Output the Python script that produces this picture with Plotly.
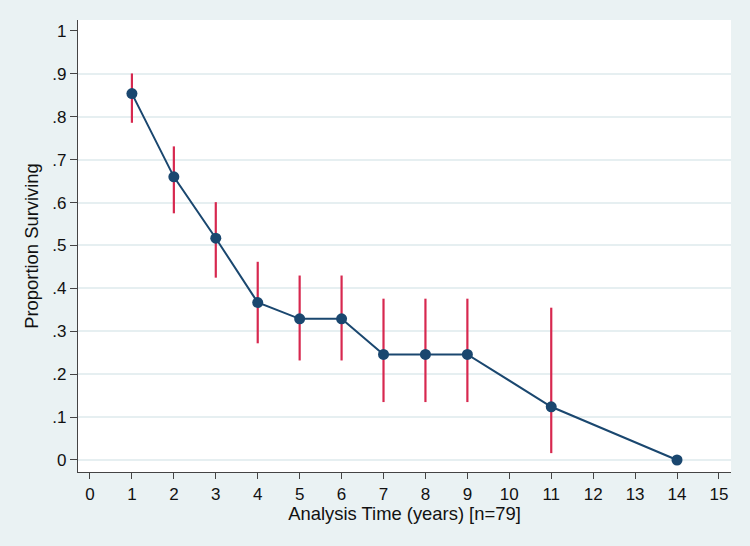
import plotly.graph_objects as go

# Data
time_years = [1, 2, 3, 4, 5, 6, 7, 8, 9, 11, 14]
survival = [0.854, 0.660, 0.517, 0.367, 0.329, 0.329, 0.246, 0.246, 0.246, 0.124, 0.0]
ci_upper = [0.901, 0.731, 0.601, 0.462, 0.430, 0.430, 0.376, 0.376, 0.376, 0.355, None]
ci_lower = [0.786, 0.575, 0.425, 0.272, 0.232, 0.232, 0.135, 0.135, 0.135, 0.016, None]

x_ticks = list(range(0, 16))
y_ticks = [i / 10 for i in range(0, 11)]
y_ticklabels = ["0", ".1", ".2", ".3", ".4", ".5", ".6", ".7", ".8", ".9", "1"]
grid_ticks = [i / 10 for i in range(0, 10)]

err_plus = [(u - s) if u is not None else 0 for u, s in zip(ci_upper, survival)]
err_minus = [(s - l) if l is not None else 0 for l, s in zip(ci_lower, survival)]

BG = "#EAF2F3"
NAVY = "#1A476F"
RED = "#D7284F"
FONT = "Liberation Sans, Arial, sans-serif"

fig = go.Figure()

# CI bars (drawn as error bars without caps)
fig.add_trace(go.Scatter(
    x=time_years, y=survival, mode="markers",
    marker=dict(size=1, color="rgba(0,0,0,0)"),
    error_y=dict(type="data", symmetric=False, array=err_plus, arrayminus=err_minus,
                 color=RED, thickness=2.2, width=0),
    showlegend=False, hoverinfo="skip",
))

fig.add_trace(go.Scatter(
    x=time_years, y=survival, mode="lines+markers",
    line=dict(color=NAVY, width=2),
    marker=dict(size=11, color=NAVY),
    showlegend=False,
))

# grid-only overlay axis (no gridline at 1)
fig.add_trace(go.Scatter(x=[None], y=[None], yaxis="y2", showlegend=False))

fig.update_layout(
    width=750, height=546,
    margin=dict(l=78, r=19, t=20, b=74),
    paper_bgcolor=BG, plot_bgcolor="white",
    font=dict(family=FONT, size=16, color="#111"),
    xaxis=dict(
        range=[-0.286, 15.287], tickvals=x_ticks, ticktext=[str(v) for v in x_ticks],
        showgrid=False, zeroline=False,
        showline=True, linecolor="#444", linewidth=1.2,
        ticks="outside", ticklen=6, tickcolor="#444", tickwidth=1.2,
        tickfont=dict(size=17),
        title=dict(text="Analysis Time (years) [n=79]", font=dict(size=18.4), standoff=2),
    ),
    yaxis=dict(
        range=[-0.028, 1.0256], tickvals=y_ticks, ticktext=y_ticklabels,
        showgrid=False, zeroline=False,
        showline=True, linecolor="#444", linewidth=1.2,
        ticks="outside", ticklen=7, tickcolor="#444", tickwidth=1.2,
        tickfont=dict(size=17),
        title=dict(text="Proportion Surviving", font=dict(size=18.4), standoff=8),
    ),
    yaxis2=dict(
        range=[-0.028, 1.0256], overlaying="y", tickvals=grid_ticks,
        showticklabels=False, showgrid=True, gridcolor="#E6EFF1", gridwidth=1.5,
        zeroline=False, showline=False, ticks="",
    ),
)

fig.write_html("out.html")
